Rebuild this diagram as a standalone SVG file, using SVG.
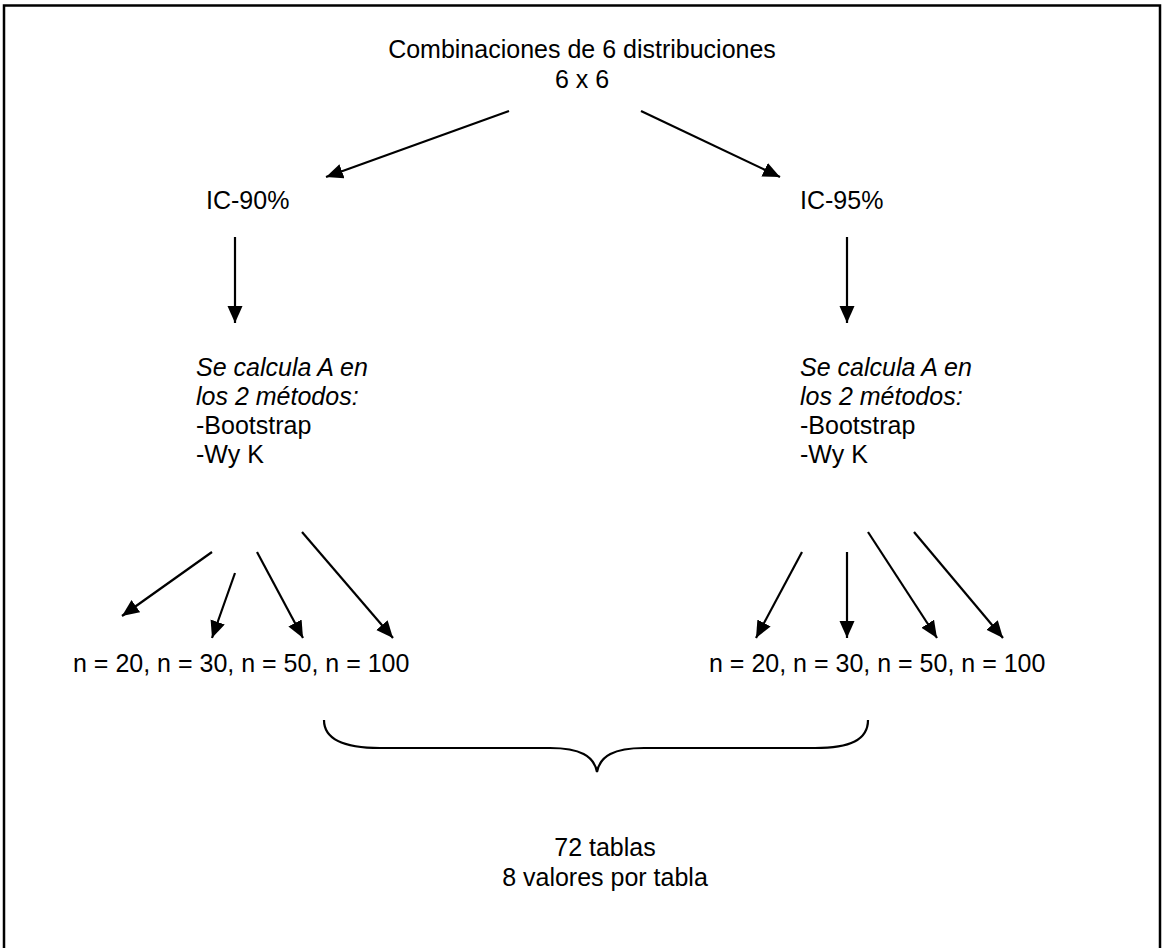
<svg xmlns="http://www.w3.org/2000/svg" width="1164" height="948" viewBox="0 0 1164 948">
<style>
  text { font-family: "Liberation Sans", Arial, Helvetica, sans-serif; font-size: 25px; fill: #000; }
  .it { font-style: italic; }
  .mid { text-anchor: middle; }
  .conn line { stroke: #000; stroke-width: 2.2; marker-end: url(#ah); }
  .brace { fill: none; stroke: #000; stroke-width: 2.2; }
</style>
<defs>
  <marker id="ah" markerUnits="userSpaceOnUse" markerWidth="18" markerHeight="16" refX="17" refY="7.5" orient="auto">
    <path d="M0,0 L17,7.5 L0,15 z" fill="#000"/>
  </marker>
</defs>
<rect x="0" y="0" width="1164" height="948" fill="#fff"/>
<path d="M4,960 L4,5.5 L1160,5.5 L1160,960" fill="none" stroke="#000" stroke-width="2.5"/>

<g id="title">
  <text class="mid" x="582" y="58">Combinaciones de 6 distribuciones</text>
  <text class="mid" x="582" y="88">6 x 6</text>
</g>
<g id="ic90"><text x="206" y="209">IC-90%</text></g>
<g id="ic95"><text x="800" y="209">IC-95%</text></g>
<g id="calc-left">
  <text class="it" x="196" y="376">Se calcula A en</text>
  <text class="it" x="196" y="405">los 2 métodos:</text>
  <text x="196" y="434">-Bootstrap</text>
  <text x="196" y="463">-Wy K</text>
</g>
<g id="calc-right">
  <text class="it" x="800" y="376">Se calcula A en</text>
  <text class="it" x="800" y="405">los 2 métodos:</text>
  <text x="800" y="434">-Bootstrap</text>
  <text x="800" y="463">-Wy K</text>
</g>
<g id="n-left"><text x="73" y="672">n = 20, n = 30, n = 50, n = 100</text></g>
<g id="n-right"><text x="709" y="672">n = 20, n = 30, n = 50, n = 100</text></g>
<g id="total">
  <text class="mid" x="605" y="856">72 tablas</text>
  <text class="mid" x="605" y="886">8 valores por tabla</text>
</g>
<g id="brace">
  <path class="brace" d="M324,720 C324,740 345,748 380,748 L550,748 C580,748 594,756 597,772 C600,756 614,748 644,748 L815,748 C850,748 868,740 868,720"/>
</g>
<g class="conn" id="connectors">
  <line x1="509" y1="111" x2="326" y2="177"/>
  <line x1="641" y1="111" x2="780" y2="177"/>
  <line x1="235" y1="237" x2="235" y2="323"/>
  <line x1="847" y1="237" x2="847" y2="323"/>
  <line x1="212" y1="552" x2="122" y2="616"/>
  <line x1="235" y1="573" x2="212" y2="638"/>
  <line x1="257" y1="552" x2="303" y2="638"/>
  <line x1="302" y1="532" x2="393" y2="638"/>
  <line x1="802" y1="552" x2="756" y2="638"/>
  <line x1="847" y1="552" x2="847" y2="638"/>
  <line x1="868" y1="532" x2="937" y2="638"/>
  <line x1="914" y1="532" x2="1003" y2="638"/>
</g>
</svg>
